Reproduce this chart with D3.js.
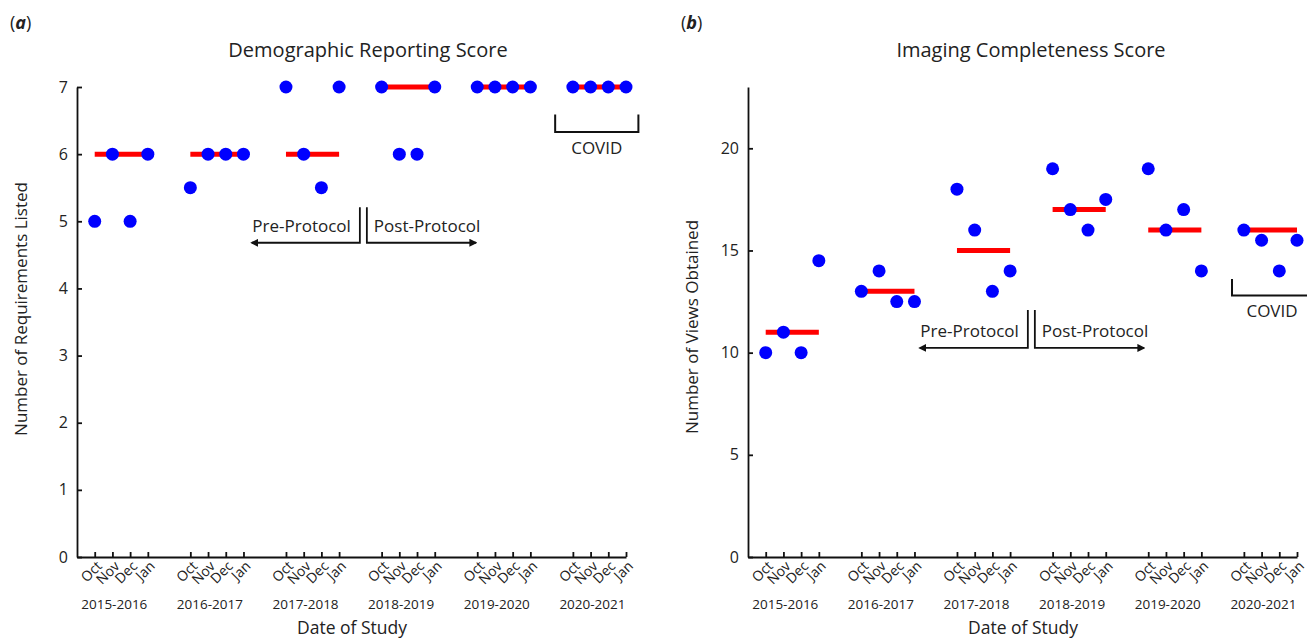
<!DOCTYPE html>
<html>
<head>
<meta charset="utf-8">
<script src="https://d3js.org/d3.v7.min.js"></script>
<style>
  body { margin: 0; background: #fff; }
  svg text { font-family: "Open Sans", sans-serif; fill: #222; }
  .domain, .tick line { stroke: #111; stroke-width: 1.8; }
</style>
</head>
<body>
<svg width="1307" height="640"></svg>
<script>
// categories
const years = ['2015-2016', '2016-2017', '2017-2018', '2018-2019', '2019-2020', '2020-2021'];
const months = ['Oct', 'Nov', 'Dec', 'Jan'];

// panel (a) values, one row per study year (Oct, Nov, Dec, Jan)
const demographicScores = [
  [5, 6, 5, 6],
  [5.5, 6, 6, 6],
  [7, 6, 5.5, 7],
  [7, 6, 6, 7],
  [7, 7, 7, 7],
  [7, 7, 7, 7]
];
const demographicMedians = [6, 6, 6, 7, 7, 7];
const demographicTicks = [0, 1, 2, 3, 4, 5, 6, 7];

// panel (b) values
const imagingScores = [
  [10, 11, 10, 14.5],
  [13, 14, 12.5, 12.5],
  [18, 16, 13, 14],
  [19, 17, 16, 17.5],
  [19, 16, 17, 14],
  [16, 15.5, 14, 15.5]
];
const imagingMedians = [11, 13, 15, 17, 16, 16];
const imagingTicks = [0, 5, 10, 15, 20];

const svg = d3.select('svg');

// month slots along the x axis: 4 months per year, gap between years
const groupStep = 5.4;
function slot(g, m) { return 1 + g * groupStep + m; }

function drawPanel(p) {
  const g = svg.append('g').attr('transform', 'translate(' + p.left + ',0)');

  const xs = d3.scaleLinear().domain([0, slot(years.length - 1, 3)]).range([0, 549]);
  const ys = d3.scaleLinear().domain(p.ydomain).range([557, 87]);

  // panel letter
  const lt = svg.append('text').attr('x', p.left - 67).attr('y', 29).style('font-size', '18px');
  lt.append('tspan').text('(');
  lt.append('tspan').style('font-weight', 'bold').style('font-style', 'italic').text(p.letter);
  lt.append('tspan').text(')');

  // title
  svg.append('text')
    .attr('x', p.titleX).attr('y', 57)
    .style('text-anchor', 'middle')
    .style('font-size', '20px')
    .text(p.title);

  // y axis
  g.append('g')
    .call(d3.axisLeft(ys).tickValues(p.ticks).tickSize(-5).tickSizeOuter(0).tickPadding(9).tickFormat(d3.format('d')))
    .call(a => a.selectAll('text').style('font-size', '16px').style('fill', '#222'));

  // x axis
  const xTicks = [];
  years.forEach((y, gi) => months.forEach((m, mi) => xTicks.push(slot(gi, mi))));
  g.append('g')
    .attr('transform', 'translate(0,557)')
    .call(d3.axisBottom(xs).tickValues(xTicks).tickSize(-5).tickSizeOuter(0).tickFormat(''));

  // month labels, slanted
  years.forEach((y, gi) => {
    months.forEach((m, mi) => {
      const x = xs(slot(gi, mi)) + 8;
      g.append('text')
        .attr('transform', 'translate(' + x + ',567) rotate(-45)')
        .style('text-anchor', 'end')
        .style('font-size', '14px')
        .text(m);
    });
    g.append('text')
      .attr('x', xs(slot(gi, 1.5)) - 7).attr('y', 609)
      .style('text-anchor', 'middle')
      .style('font-size', '13.5px')
      .text(y);
  });

  // axis titles
  g.append('text')
    .attr('x', 275).attr('y', 634)
    .style('text-anchor', 'middle')
    .style('font-size', '17.5px')
    .text('Date of Study');
  svg.append('text')
    .attr('transform', 'translate(' + (p.left - 50) + ',' + p.ylabelY + ') rotate(-90)')
    .style('text-anchor', 'middle')
    .style('font-size', '17px')
    .text(p.ylabel);

  // medians
  g.append('g').selectAll('line')
    .data(p.medians)
    .enter().append('line')
      .attr('x1', (d, i) => xs(slot(i, 0)))
      .attr('x2', (d, i) => xs(slot(i, 3)))
      .attr('y1', d => ys(d))
      .attr('y2', d => ys(d))
      .style('stroke', '#ff0000')
      .style('stroke-width', 5);

  // monthly scores
  const pts = [];
  p.scores.forEach((row, gi) => row.forEach((v, mi) => pts.push({ g: gi, m: mi, v: v })));
  g.append('g').selectAll('circle')
    .data(pts)
    .enter().append('circle')
      .attr('cx', d => xs(slot(d.g, d.m)))
      .attr('cy', d => ys(d.v))
      .attr('r', 6.5)
      .style('fill', '#0000ff');

  // Pre / Post protocol annotation
  const a = p.protocol;
  const xl = xs(a.split) - 3.5, xr = xs(a.split) + 3.5;
  const yt = ys(a.top), ya = ys(a.arrow);
  const ann = g.append('g').style('stroke', '#111').style('stroke-width', 1.8).style('fill', 'none');
  ann.append('path').attr('d', 'M' + xl + ',' + yt + 'V' + ya + 'H' + (xl - 108)).attr('marker-end', 'url(#arrow)');
  ann.append('path').attr('d', 'M' + xr + ',' + yt + 'V' + ya + 'H' + (xr + 109)).attr('marker-end', 'url(#arrow)');
  g.append('text')
    .attr('x', xl - 9).attr('y', ya - 11)
    .style('text-anchor', 'end')
    .style('font-size', '17px')
    .text('Pre-Protocol');
  g.append('text')
    .attr('x', xr + 7).attr('y', ya - 11)
    .style('font-size', '17px')
    .text('Post-Protocol');

  // COVID bracket
  const c = p.covid;
  const cx0 = xs(c.from), cx1 = xs(c.to);
  g.append('path')
    .attr('d', 'M' + cx0 + ',' + ys(c.top) + 'V' + ys(c.bottom) + 'H' + cx1 + 'V' + ys(c.top))
    .style('stroke', '#111').style('stroke-width', 2).style('fill', 'none');
  g.append('text')
    .attr('x', (cx0 + cx1) / 2).attr('y', ys(c.label))
    .style('text-anchor', 'middle')
    .style('font-size', '17px')
    .text('COVID');
}

// arrow head
svg.append('defs').append('marker')
  .attr('id', 'arrow')
  .attr('viewBox', '0 0 10 10')
  .attr('refX', 8).attr('refY', 5)
  .attr('markerWidth', 4.5).attr('markerHeight', 4.5)
  .attr('orient', 'auto')
  .append('path').attr('d', 'M0,0L10,5L0,10z').style('fill', '#111').style('stroke', 'none');

drawPanel({
  left: 77, letter: 'a', title: 'Demographic Reporting Score', titleX: 368,
  ylabel: 'Number of Requirements Listed', ylabelY: 309,
  ydomain: [0, 7], ticks: demographicTicks,
  scores: demographicScores, medians: demographicMedians,
  protocol: { split: 16.17, top: 5.21, arrow: 4.68 },
  covid: { from: 27.0, to: 31.7, top: 6.59, bottom: 6.33, label: 6.0 }
});

drawPanel({
  left: 748, letter: 'b', title: 'Imaging Completeness Score', titleX: 1031,
  ylabel: 'Number of Views Obtained', ylabelY: 327,
  ydomain: [0, 23], ticks: imagingTicks,
  scores: imagingScores, medians: imagingMedians,
  protocol: { split: 16.0, top: 12.09, arrow: 10.23 },
  covid: { from: 27.33, to: 31.85, top: 13.6, bottom: 12.8, label: 11.75 }
});
</script>
</body>
</html>
